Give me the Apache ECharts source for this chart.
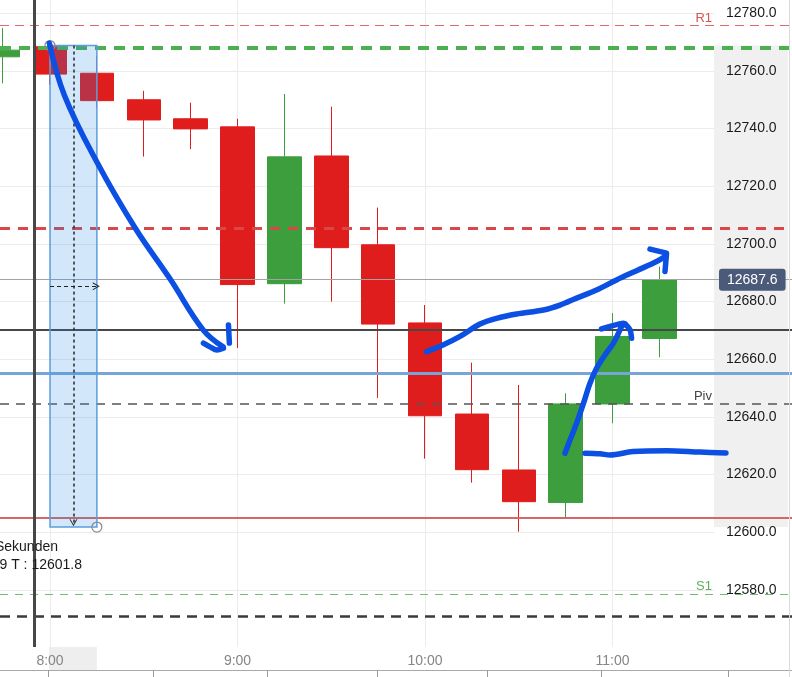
<!DOCTYPE html>
<html><head><meta charset="utf-8">
<script src="https://cdn.jsdelivr.net/npm/echarts@6/dist/echarts.min.js"></script>
<style>html,body{margin:0;padding:0;background:#fff}#c{width:792px;height:677px}</style>
</head><body><div id="c"></div>
<script>
// ---- data ----
const times  = ['07:45','08:00','08:15','08:30','08:45','09:00','09:15','09:30','09:45','10:00','10:15','10:30','10:45','11:00','11:15'];
const opens  = [12764.9,12768.4,12759.2,12750.0,12743.4,12740.6,12686.2,12730.5,12699.7,12672.6,12641.0,12621.6,12610.3,12644.5,12667.2];
const highs  = [12774.9,12768.8,12765.0,12753.1,12749.0,12743.4,12752.0,12747.6,12712.6,12678.8,12658.8,12651.1,12648.2,12676.0,12692.1];
const lows   = [12755.7,12755.2,12747.1,12730.3,12732.9,12663.9,12679.3,12680.0,12646.6,12625.5,12617.2,12600.2,12604.9,12637.8,12660.7];
const closes = [12767.2,12758.9,12749.7,12743.0,12739.9,12685.9,12730.2,12698.7,12672.2,12640.4,12621.7,12610.6,12644.5,12667.9,12687.6];

const yTickValues = [12580,12600,12620,12640,12660,12680,12700,12720,12740,12760,12780];
const xTickTimes  = ['08:00','09:00','10:00','11:00'];

const levelNames  = ['R1','','','','','','Piv','','S1',''];
const levelValues = [12775.7,12768.0,12705.5,12687.6,12670.2,12655.1,12644.6,12604.9,12578.5,12570.7];

const crosshairTime = '07:55';
const measureTimes  = ['08:00','08:15'];
const measurePrices = [12768.8, 12601.8];
const measureText1  = 'Sekunden';
const measureText2  = '9 T : ';

// hand-drawn strokes: [minutes since midnight, price]
const strokeDown     = [[479.8,12769.6],[484.6,12751.6],[495.0,12728.4],[507.2,12705.6],[518.4,12687.9],[529.0,12670.2],[535.4,12664.3]];
const strokeDownHook = [[529.1,12665.6],[531.2,12664.3],[533.4,12663.2],[535.5,12663.8]];
const strokeDownTick = [[537.1,12671.9],[537.4,12665.6]];
const strokeUp       = [[600.5,12662.6],[605.9,12665.0],[611.2,12667.9],[617.6,12672.2],[622.9,12674.2],[629.3,12675.7],[637.9,12677.1],[643.2,12678.8],[648.5,12681.2],[654.9,12684.0],[661.3,12687.5],[667.7,12690.7],[674.1,12693.9],[676.8,12695.6]];
const strokeUpHead   = [[672.0,12698.2],[677.3,12696.8],[676.8,12690.4]];
const strokeRise     = [[644.8,12627.4],[646.4,12632.0],[648.5,12637.8],[650.7,12644.7],[652.8,12651.7],[654.9,12656.9],[657.6,12661.5],[660.3,12665.6],[661.9,12669.0],[662.9,12671.3],[664.0,12672.3]];
const strokeRiseHead = [[656.5,12670.5],[658.6,12671.2],[663.5,12672.5],[665.6,12670.2],[666.1,12667.3]];
const strokeFlat     = [[651.2,12627.4],[656.0,12627.2],[659.2,12626.8],[666.6,12628.0],[677.3,12628.3],[688.0,12627.8],[696.3,12627.5]];

// ---- view / style ----
const toMin = s => { const [h,m] = s.split(':').map(Number); return h*60+m; };
const fmtTime = v => Math.floor(v/60) + ':' + String(Math.round(v%60)).padStart(2,'0');
const xMin = 464, xMaxPlot = 692.48, xMaxFull = 717.44;
const yMin = 12560.2, yMax = 12784.6;
const FONT = '"Liberation Sans", Arial, sans-serif';

const levelStyles = [
  {color:'#e06a6a', width:1.2, type:[9,6]},
  {color:'#4caf50', width:4,   type:[11,8]},
  {color:'#d94848', width:3,   type:[10,8]},
  {color:'#a3a3a3', width:1,   type:'solid'},
  {color:'#474747', width:2,   type:'solid'},
  {color:'#77a6d6', width:3,   type:'solid'},
  {color:'#555555', width:1.5, type:[9,7]},
  {color:'#d46868', width:1.8, type:'solid'},
  {color:'#6cbf6c', width:1.2, type:[8,7]},
  {color:'#3a3a3a', width:2.5, type:[10,7]}
];
const levelLabelColors = {R1:'#dd5050', Piv:'#444444', S1:'#5cb05c'};

const chart = echarts.init(document.getElementById('c'), null, {renderer:'canvas'});
const chevron = 'path://M0,10 L5,0 L10,10 L8.6,10 L5,2.8 L1.4,10 Z';
const BLUE = '#0c4fe3';
const strokeSeries = (data, smooth) => ({
  type:'line', xAxisIndex:1, yAxisIndex:1, z:8, data, smooth, symbol:'none', silent:true,
  lineStyle:{color:BLUE, width:5.5, cap:'round', join:'round'}
});
const mt0 = toMin(measureTimes[0]), mt1 = toMin(measureTimes[1]);
const mMidT = (mt0+mt1)/2, mMidP = (measurePrices[0]+measurePrices[1])/2;

chart.setOption({
  animation:false,
  textStyle:{fontFamily:FONT},
  grid:[
    {left:0, right:78, top:0, bottom:30, containLabel:false},
    {left:0, right:0, top:0, bottom:30, containLabel:false}
  ],
  xAxis:[
    {type:'value', gridIndex:0, min:xMin, max:xMaxPlot, z:2,
     axisLine:{show:false}, axisTick:{show:false, customValues:xTickTimes.map(toMin)},
     axisLabel:{customValues:xTickTimes.map(toMin), formatter:fmtTime, color:'#858585', fontSize:14, margin:7, fontFamily:FONT},
     splitLine:{show:true, lineStyle:{color:'#ececec', width:1}}},
    {type:'value', gridIndex:1, min:xMin, max:xMaxFull, show:false}
  ],
  yAxis:[
    {type:'value', gridIndex:0, position:'right', min:yMin, max:yMax, z:2,
     axisLine:{show:false}, axisTick:{show:false, customValues:yTickValues},
     axisLabel:{customValues:yTickValues, formatter:v=>v.toFixed(1), color:'#1a1a1a', fontSize:14, margin:12, fontFamily:FONT},
     splitLine:{show:true, lineStyle:{color:'#ececec', width:1}}},
    {type:'value', gridIndex:1, min:yMin, max:yMax, show:false}
  ],
  series:[
    // price-scale highlight of the measured range
    {type:'line', xAxisIndex:1, yAxisIndex:1, z:1, data:[], silent:true,
     markArea:{silent:true, z:1, itemStyle:{color:'#f0f0f0'},
       data:[[{xAxis:xMaxPlot, yAxis:measurePrices[0]},{xAxis:xMaxFull-1.3, yAxis:measurePrices[1]}]]}},
    // candles
    {type:'candlestick', xAxisIndex:0, yAxisIndex:0, z:5, barWidth:34, silent:true,
     encode:{x:0, y:[1,2,3,4]},
     data: times.map((t,i)=>[toMin(t), opens[i], closes[i], lows[i], highs[i]]),
     itemStyle:{color:'#3d9e3d', color0:'#e01d1d', borderColor:'#3d9e3d', borderColor0:'#e01d1d', borderWidth:1}},
    // level lines + crosshair
    {type:'line', xAxisIndex:1, yAxisIndex:1, z:6, data:[], silent:true,
     markLine:{silent:true, z:6, symbol:['none','none'], label:{show:false}, animation:false,
       data: levelValues.map((v,i)=>({yAxis:v, lineStyle:levelStyles[i]}))
         .concat([{xAxis:toMin(crosshairTime), lineStyle:{color:'#474747', width:3, type:'solid'}}])}},
    // level labels
    {type:'scatter', xAxisIndex:1, yAxisIndex:1, z:6, symbolSize:0, silent:true,
     itemStyle:{opacity:1},
     data: levelValues.map((v,i)=>levelNames[i] ? {value:[xMaxPlot, v, levelNames[i]],
        label:{color:levelLabelColors[levelNames[i]]}} : null).filter(Boolean),
     label:{show:true, position:'top', align:'right', offset:[-2,0], distance:1, fontSize:13, fontFamily:FONT,
        formatter:p=>p.value[2]}},
    // measurement rectangle
    {type:'scatter', xAxisIndex:0, yAxisIndex:0, z:7, silent:true,
     data:[[mt0, measurePrices[0]],[mt1, measurePrices[1]]],
     symbol:'circle', symbolSize:10,
     itemStyle:{color:'rgba(255,255,255,0)', borderColor:'#8a8a8a', borderWidth:1.2, opacity:1},
     markArea:{silent:true, z:7, itemStyle:{color:'rgba(33,136,230,0.2)', borderColor:'#5e9ddb', borderWidth:1.5},
       data:[[{coord:[mt0, measurePrices[0]]},{coord:[mt1, measurePrices[1]]}]]},
     markLine:{silent:true, z:7, label:{show:false}, symbol:['none', chevron], symbolSize:[8,7],
       data:[
         [{coord:[mMidT, measurePrices[0]], lineStyle:{color:'#333', width:1.6, type:[3,3]}}, {coord:[mMidT, measurePrices[1]+1.5]}],
         [{coord:[mt0, mMidP], lineStyle:{color:'#222', width:1.2, type:[4,3]}}, {coord:[mt1-0.2, mMidP]}]
       ]}},
    // hand-drawn strokes
    strokeSeries(strokeDown, 0.4),
    strokeSeries(strokeDownHook, 0.3),
    strokeSeries(strokeDownTick, false),
    strokeSeries(strokeUp, 0.35),
    strokeSeries(strokeUpHead, false),
    strokeSeries(strokeRise, 0.35),
    strokeSeries(strokeRiseHead, 0.2),
    strokeSeries(strokeFlat, 0.35),
    // last price badge
    {type:'scatter', xAxisIndex:1, yAxisIndex:1, z:9, symbolSize:0, silent:true,
     itemStyle:{opacity:1},
     data:[[xMaxPlot, closes[closes.length-1]]],
     label:{show:true, position:'right', distance:5, formatter:p=>p.value[1].toFixed(1),
       color:'#fff', backgroundColor:'#4a5a78', borderRadius:3, padding:[4,8], fontSize:14, fontFamily:FONT}}
  ]
});

// axis highlight + measurement texts + bottom strip
const px0 = chart.convertToPixel({xAxisIndex:0}, mt0);
const px1 = chart.convertToPixel({xAxisIndex:0}, mt1);
const pyB = chart.convertToPixel({yAxisIndex:0}, measurePrices[1]);
const gridBottom = 647;
chart.setOption({
  graphic:[
    {type:'rect', z:0, silent:true, shape:{x:px0-1, y:gridBottom, width:px1-px0+1, height:23}, style:{fill:'#eeeeee'}},
    {type:'line', z:10, silent:true, shape:{x1:0, y1:670.5, x2:792, y2:670.5}, style:{stroke:'#a8a8a8', lineWidth:1}},
    {type:'line', z:10, silent:true, shape:{x1:789.5, y1:0, x2:789.5, y2:677}, style:{stroke:'#dadada', lineWidth:1}},
    ...[48,153,267,377,487,601,728].map(x=>({type:'line', z:10, silent:true, shape:{x1:x+0.5, y1:670, x2:x+0.5, y2:677}, style:{stroke:'#9a9a9a', lineWidth:1}})),
    {type:'text', z:10, silent:true, style:{x:58, y:pyB+20, text:measureText1, align:'right', verticalAlign:'middle', fill:'#1a1a1a', font:'14px '+FONT}},
    {type:'text', z:10, silent:true, style:{x:82, y:pyB+38, text:measureText2+measurePrices[1].toFixed(1), align:'right', verticalAlign:'middle', fill:'#1a1a1a', font:'14px '+FONT}}
  ]
});
</script></body></html>
